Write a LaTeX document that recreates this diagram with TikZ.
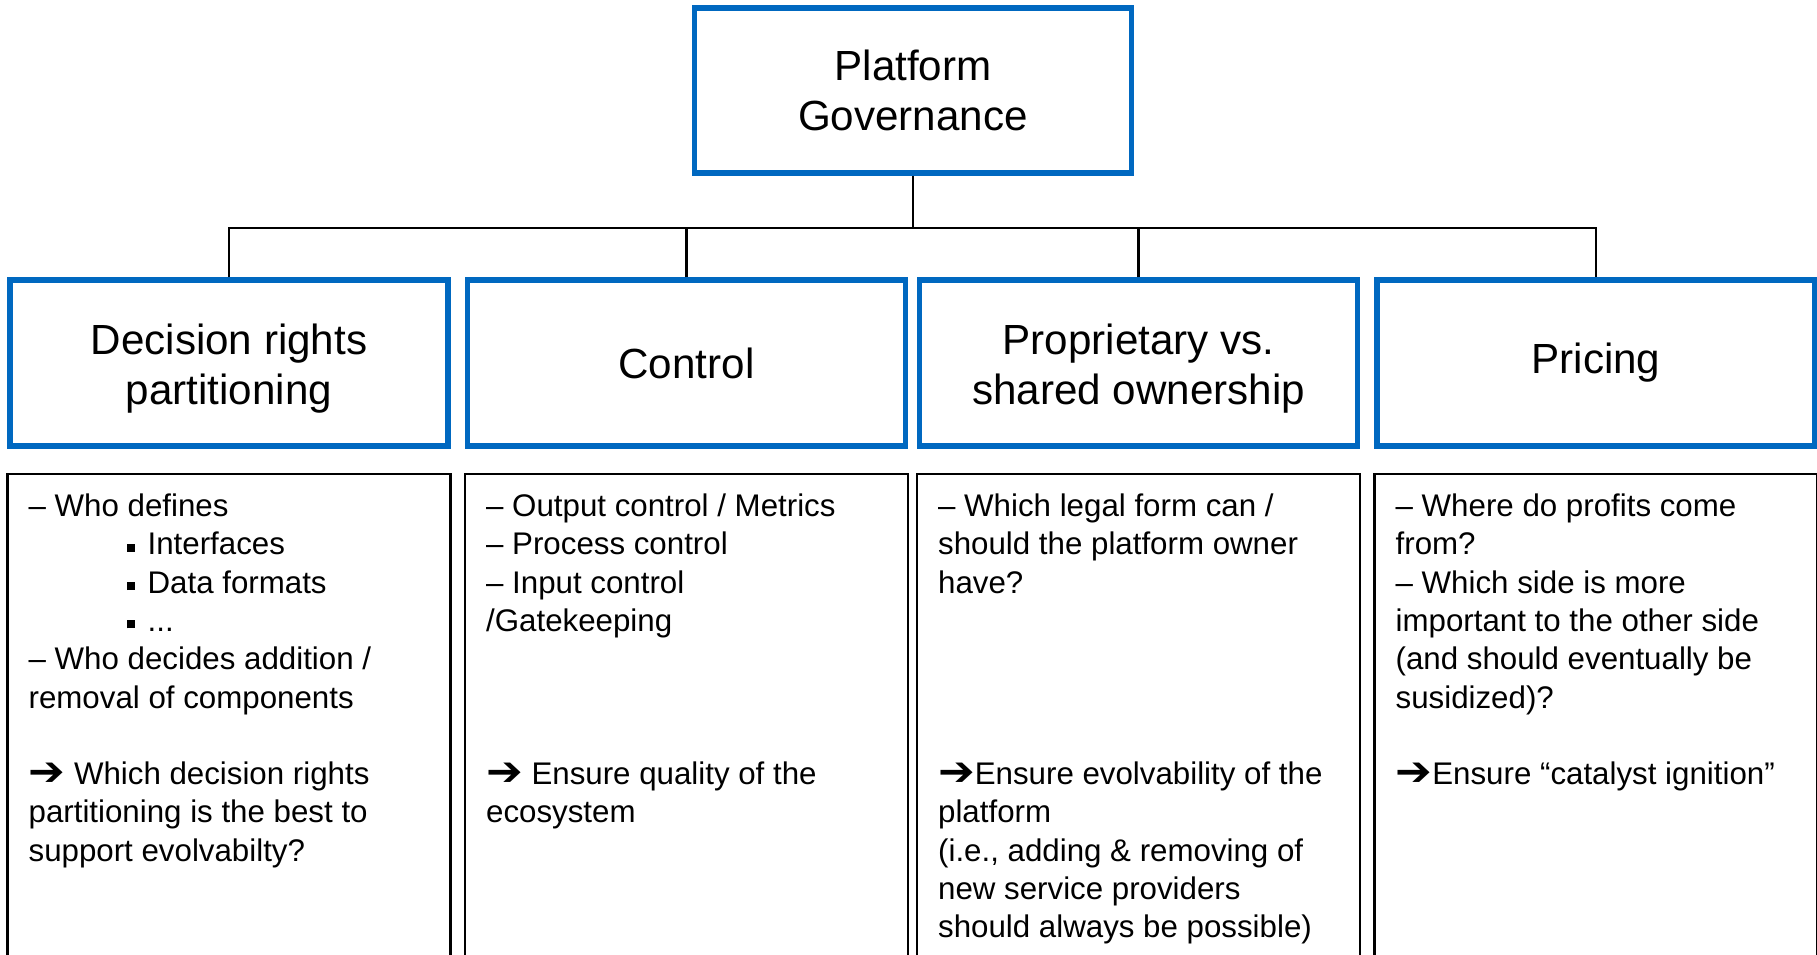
\documentclass[tikz,border=0pt]{standalone}
\usepackage{fontspec}
\setmainfont{Liberation Sans}
\newfontfamily\arrowfont{DejaVu Sans}
\usepackage{tikz}
\usetikzlibrary{positioning,calc}
\definecolor{HeadBlue}{RGB}{0, 104, 192}
\newcommand{\bulletsq}{\rule[0.06cm]{0.16cm}{0.16cm}\hspace{0.26cm}}
\newcommand{\bigarrow}{\raisebox{-0.02cm}{\scalebox{1.4}[1.3]{\arrowfont ➔}}}
\newcommand{\titlepad}{\rule{0pt}{0.82cm}}

\begin{document}
\begin{tikzpicture}[x=0.02cm, y=-0.02cm,
  head/.style={draw=HeadBlue, line width=0.11cm, minimum width=8.76cm, minimum height=3.32cm, align=center, font=\fontsize{24}{28.6}\selectfont},
  panel/.style={draw=black, line width=0.05cm},
  body/.style={anchor=north west, inner sep=0pt, xshift=0.42cm, align=left, font=\fontsize{17.8}{21.8}\selectfont},
  link/.style={draw=black, line width=0.05cm}]
  \useasboundingbox (0,0) rectangle (1817,954);

  % Root
  \node[head, minimum width=8.74cm, minimum height=3.3cm] (gov) at (913,90.5) {Platform\\Governance};

  % Categories
  \node[head] (decision) at (229,363) {\titlepad Decision rights\\partitioning};
  \node[head] (control) at (686.5,363) {Control};
  \node[head] (ownership) at (1138.5,363) {\titlepad Proprietary vs.\\shared ownership};
  \node[head] (pricing) at (1596,363) {Pricing};

  % Tree lines
  \coordinate (bus) at (913,228);
  \draw[link] (gov.south) -- (bus);
  \draw[link] (decision.north) |- (bus) -| (pricing.north);
  \draw[link] (control.north) -- (control.north |- bus);
  \draw[link] (ownership.north) -- (ownership.north |- bus);

  % Panels below
  \coordinate (ptop) at (0,474);
  \coordinate (pbot) at (0,980);
  \coordinate (ttop) at (0,493.5);
  \foreach \n in {decision,control,ownership,pricing}
    \draw[panel] (\n.west |- ptop) rectangle (\n.east |- pbot);

  \node[body] (txt1) at (decision.west |- ttop) {%
    – Who defines\\
    \hspace*{1.96cm}\bulletsq Interfaces\\
    \hspace*{1.96cm}\bulletsq Data formats\\
    \hspace*{1.96cm}\bulletsq ...\\
    – Who decides addition /\\
    removal of components\\
    \mbox{}\\
    \bigarrow{} Which decision rights\\
    partitioning is the best to\\
    support evolvabilty?};
  \node[body] (txt2) at (control.west |- ttop) {%
    – Output control / Metrics\\
    – Process control\\
    – Input control\\
    /Gatekeeping\\
    \mbox{}\\
    \mbox{}\\
    \mbox{}\\
    \bigarrow{} Ensure quality of the\\
    ecosystem};
  \node[body] (txt3) at (ownership.west |- ttop) {%
    – Which legal form can /\\
    should the platform owner\\
    have?\\
    \mbox{}\\
    \mbox{}\\
    \mbox{}\\
    \mbox{}\\
    \bigarrow{}Ensure evolvability of the\\
    platform\\
    (i.e., adding \& removing of\\
    new service providers\\
    should always be possible)};
  \node[body] (txt4) at (pricing.west |- ttop) {%
    – Where do profits come\\
    from?\\
    – Which side is more\\
    important to the other side\\
    (and should eventually be\\
    susidized)?\\
    \mbox{}\\
    \bigarrow{}Ensure “catalyst ignition”};
\end{tikzpicture}
\end{document}
